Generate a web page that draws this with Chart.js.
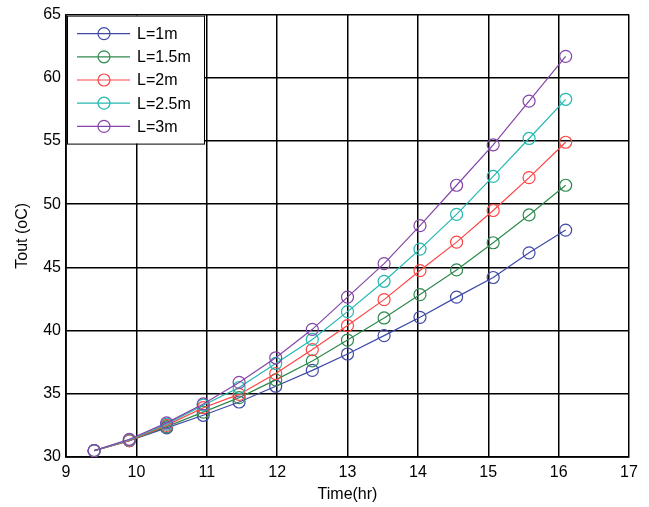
<!DOCTYPE html>
<html>
<head>
<meta charset="utf-8">
<script src="https://cdn.jsdelivr.net/npm/chart.js@4.4.0/dist/chart.umd.min.js"></script>
<style>
  html, body { margin: 0; padding: 0; background: #fff; }
  #wrap { width: 649px; height: 507px; }
</style>
</head>
<body>
<div id="wrap"><canvas id="toutChart" width="649" height="507"></canvas></div>
<script>
// Outlet temperature vs time for different lengths
const times = [9.4, 9.9, 10.43, 10.95, 11.46, 11.98, 12.5, 13.0, 13.52, 14.03, 14.55, 15.07, 15.58, 16.1];
const seriesLabels = ['L=1m', 'L=1.5m', 'L=2m', 'L=2.5m', 'L=3m'];
const tout1 = [30.5, 31.3, 32.3, 33.3, 34.35, 35.6, 36.85, 38.15, 39.6, 41.05, 42.65, 44.2, 46.15, 47.95];
const tout15 = [30.5, 31.3, 32.4, 33.55, 34.7, 36.1, 37.6, 39.25, 41.0, 42.85, 44.8, 46.95, 49.15, 51.5];
const tout2 = [30.5, 31.3, 32.5, 33.9, 34.95, 36.6, 38.5, 40.4, 42.45, 44.75, 47.0, 49.5, 52.1, 54.9];
const tout25 = [30.5, 31.35, 32.6, 34.1, 35.5, 37.4, 39.3, 41.5, 43.9, 46.45, 49.2, 52.2, 55.2, 58.3];
const tout3 = [30.5, 31.4, 32.7, 34.2, 35.9, 37.85, 40.1, 42.65, 45.3, 48.3, 51.5, 54.7, 58.15, 61.7];
const xTicks = [9, 10, 11, 12, 13, 14, 15, 16, 17];
const yTicks = [30, 35, 40, 45, 50, 55, 60, 65];

const seriesValues = [tout1, tout15, tout2, tout25, tout3];
const seriesColors = ['#3f4aa8', '#2f8a4e', '#ff4444', '#22b8b0', '#8446a8'];
const fontFamily = 'Arial, "Liberation Sans", Helvetica, sans-serif';

const datasets = seriesValues.map((vals, i) => ({
    label: seriesLabels[i],
    data: vals.map((v, j) => ({ x: times[j], y: v })),
    borderColor: seriesColors[i],
    backgroundColor: 'rgba(0,0,0,0)',
    borderWidth: 1.2,
    pointStyle: 'circle',
    pointRadius: 6,
    pointBorderWidth: 1.2,
    pointBackgroundColor: 'rgba(0,0,0,0)',
    pointBorderColor: seriesColors[i],
    tension: 0,
    order: seriesValues.length - i
}));

// legend box drawn inside the plot area, top-left
const insideLegend = {
    id: 'insideLegend',
    afterDatasetsDraw(chart) {
        const ctx = chart.ctx;
        const area = chart.chartArea;
        const x0 = area.left + 1, y0 = area.top + 1;
        const w = 137, h = 128;
        ctx.save();
        ctx.fillStyle = '#fff';
        ctx.fillRect(x0, y0, w, h);
        ctx.strokeStyle = '#000';
        ctx.lineWidth = 1;
        ctx.strokeRect(x0 + 0.5, y0 + 0.5, w, h);
        ctx.font = '16px ' + fontFamily;
        ctx.textBaseline = 'middle';
        chart.data.datasets.forEach((ds, i) => {
            const y = y0 + 18 + i * 23.2;
            ctx.strokeStyle = ds.borderColor;
            ctx.lineWidth = 1.2;
            ctx.beginPath();
            ctx.moveTo(x0 + 10, y);
            ctx.lineTo(x0 + 63, y);
            ctx.stroke();
            ctx.beginPath();
            ctx.arc(x0 + 37, y, 6, 0, Math.PI * 2);
            ctx.stroke();
            ctx.fillStyle = '#000';
            ctx.fillText(ds.label, x0 + 70, y + 1);
        });
        ctx.restore();
    }
};

new Chart(document.getElementById('toutChart').getContext('2d'), {
    type: 'line',
    data: { datasets: datasets },
    options: {
        responsive: false,
        animation: false,
        layout: { padding: { left: 0, right: 20, top: 13, bottom: 0 } },
        scales: {
            x: {
                type: 'linear',
                min: 9,
                max: 17,
                afterBuildTicks: (scale) => { scale.ticks = xTicks.map(v => ({ value: v })); },
                afterFit: (scale) => { scale.height = 50; },
                ticks: { color: '#000', padding: 6, font: { family: fontFamily, size: 16 } },
                grid: { color: '#000', lineWidth: 1.5, drawTicks: false },
                border: { display: true, color: '#000', width: 1.8 },
                title: {
                    display: true,
                    text: 'Time(hr)',
                    color: '#000',
                    font: { family: fontFamily, size: 16 },
                    padding: { top: 0, bottom: 3 }
                }
            },
            y: {
                type: 'linear',
                min: 30,
                max: 65,
                afterBuildTicks: (scale) => { scale.ticks = yTicks.map(v => ({ value: v })); },
                afterFit: (scale) => { scale.width = 66; },
                ticks: { color: '#000', padding: 5, font: { family: fontFamily, size: 16 } },
                grid: { color: '#000', lineWidth: 1.5, drawTicks: false },
                border: { display: true, color: '#000', width: 1.8 },
                title: {
                    display: true,
                    text: 'Tout (oC)',
                    color: '#000',
                    font: { family: fontFamily, size: 16 },
                    padding: { top: 13, bottom: 0 }
                }
            }
        },
        plugins: {
            legend: { display: false },
            tooltip: { enabled: false }
        }
    },
    plugins: [insideLegend]
});
</script>
</body>
</html>
